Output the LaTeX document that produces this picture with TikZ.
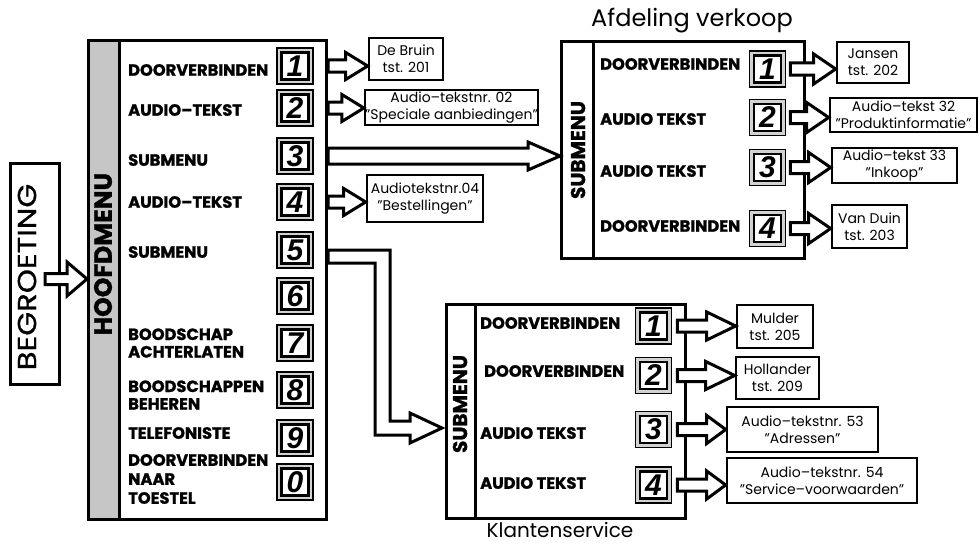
\documentclass[tikz,border=0pt]{standalone}
\usepackage{fontspec}
\setmainfont{Poppins}
\newfontfamily\heavyfont{Poppins}[BoldFeatures={FakeBold=1.2}]
\newfontfamily\medfont{Poppins}[UprightFeatures={FakeBold=0.8}]
\newfontfamily\keyfont{Liberation Sans}
\usetikzlibrary{calc}
\tikzset{
  frame/.style={draw, line width=3pt, inner sep=0pt},
  keybtn/.style={draw, line width=1.5pt, fill=gray!35, minimum size=36pt, inner sep=0pt,
    font=\keyfont\itshape\bfseries\fontsize{30}{30}\selectfont,
    path picture={\draw[line width=2.4pt, fill=white]
      ([shift={(4.5pt,4.5pt)}]path picture bounding box.south west) rectangle
      ([shift={(-4.5pt,-4.5pt)}]path picture bounding box.north east);}},
  lbl/.style={anchor=west, inner sep=0pt, align=left, font=\heavyfont\bfseries\fontsize{16.3}{17.5}\selectfont},
  info/.style={draw, line width=2.6pt, align=center, inner sep=0pt, font=\fontsize{14}{17}\selectfont},
  fatline/.style={draw, line width=3pt, fill=white, line join=miter},
  side/.style={rotate=90, inner sep=0pt, font=\heavyfont\bfseries\fontsize{20}{20}\selectfont},
  title/.style={inner sep=0pt, font=\fontsize{24}{24}\selectfont},
}
% #1 start point, #2 tip point (x used), #3 head length, #4 shaft half width, #5 head half width
\newcommand\fatarrow[5]{%
  \path[fatline] let \p1=(#1), \p2=(#2) in
    (\x1,{\y1+#4}) -- ({\x2-#3},{\y1+#4}) -- ({\x2-#3},{\y1+#5}) -- (\x2,\y1)
    -- ({\x2-#3},{\y1-#5}) -- ({\x2-#3},{\y1-#4}) -- (\x1,{\y1-#4}) -- cycle;}
\begin{document}
\begin{tikzpicture}[x=1pt,y=-1pt]
\useasboundingbox[fill=white] (0,0) rectangle (979,543);

% ---------- BEGROETING ----------
\node[frame, minimum width=49pt, minimum height=221pt, anchor=north west] (beg) at (9,162) {};
\node[rotate=90, inner sep=0pt, font=\medfont\fontsize{26}{26}\selectfont] (begt) at (27,277) {\scalebox{1.18}[1]{BEGROETING}};

% ---------- HOOFDMENU ----------
\node[frame, minimum width=238pt, minimum height=479pt, anchor=north west] (main) at (87,39) {};
\node[frame, fill=gray!45, minimum width=31pt, minimum height=479pt, anchor=north west] (mstrip) at (87,39) {};
\node[rotate=90, inner sep=0pt, font=\heavyfont\bfseries\fontsize{25}{25}\selectfont] (mtitle) at (103,254) {HOOFDMENU};

\coordinate (bs) at (45,279);
\fatarrow{bs}{main.west}{20pt}{5.5pt}{17pt}

\node[keybtn] (m1) at (295,66) {1};
\node[keybtn] (m2) at (295,108) {2};
\node[keybtn] (m3) at (295,156) {3};
\node[keybtn] (m4) at (295,202) {4};
\node[keybtn] (m5) at (295,250) {5};
\node[keybtn] (m6) at (295,296) {6};
\node[keybtn] (m7) at (295,343) {7};
\node[keybtn] (m8) at (295,390) {8};
\node[keybtn] (m9) at (295,438) {9};
\node[keybtn] (m0) at (295,482) {0};

\node[lbl] (ml1) at (128,70) {DOORVERBINDEN};
\node[lbl] (ml2) at (128,110) {AUDIO–TEKST};
\node[lbl] (ml3) at (128,160) {SUBMENU};
\node[lbl] (ml4) at (128,202) {AUDIO–TEKST};
\node[lbl] (ml5) at (128,252) {SUBMENU};
\node[lbl] (ml7) at (128,343) {BOODSCHAP\\ACHTERLATEN};
\node[lbl] (ml8) at (128,395) {BOODSCHAPPEN\\BEHEREN};
\node[lbl] (ml9) at (128,433) {TELEFONISTE};
\node[lbl, font=\heavyfont\bfseries\fontsize{16.3}{19}\selectfont] (ml0) at (128,479) {DOORVERBINDEN\\NAAR\\TOESTEL};

\node[info, minimum width=74pt, minimum height=42pt] (db) at (406,59) {De Bruin\\tst. 201};
\node[info, minimum width=171pt, minimum height=35pt] (a02) at (451.5,107.5) {Audio–tekstnr. 02\\"Speciale aanbiedingen"};
\node[info, minimum width=116pt, minimum height=47pt] (a04) at (425,198.5) {Audiotekstnr.04\\"Bestellingen"};

% ---------- Afdeling verkoop ----------
\node[title] (vt) at (692,21) {Afdeling verkoop};
\node[frame, minimum width=243pt, minimum height=217pt, anchor=north west] (usub) at (560,40) {};
\node[frame, minimum width=32pt, minimum height=217pt, anchor=north west] (ustrip) at (560,40) {};
\node[side] (ust) at (578,150) {SUBMENU};

\node[keybtn] (u1) at (767.5,69) {1};
\node[keybtn] (u2) at (767.5,117.5) {2};
\node[keybtn] (u3) at (767.5,167.5) {3};
\node[keybtn] (u4) at (767.5,228.5) {4};

\node[lbl] (ul1) at (600,64) {DOORVERBINDEN};
\node[lbl] (ul2) at (600,119) {AUDIO TEKST};
\node[lbl] (ul3) at (600,171) {AUDIO TEKST};
\node[lbl] (ul4) at (600,226) {DOORVERBINDEN};

\node[info, minimum width=72pt, minimum height=41pt] (jansen) at (873,62.5) {Jansen\\tst. 202};
\node[info, minimum width=147pt, minimum height=34pt] (a32) at (903.5,115) {Audio–tekst 32\\"Produktinformatie"};
\node[info, minimum width=125pt, minimum height=35pt] (a33) at (894.5,165.5) {Audio–tekst 33\\"Inkoop"};
\node[info, minimum width=75pt, minimum height=43pt] (vd) at (869.5,226.5) {Van Duin\\tst. 203};

% ---------- Klantenservice ----------
\node[frame, minimum width=239pt, minimum height=214pt, anchor=north west] (lsub) at (445,303) {};
\node[frame, minimum width=29pt, minimum height=214pt, anchor=north west] (lstrip) at (445,303) {};
\node[side] (lst) at (460,404) {SUBMENU};
\node[inner sep=0pt, font=\fontsize{20}{20}\selectfont] (kt) at (560,529.5) {Klantenservice};

\node[keybtn] (l1) at (653.5,326) {1};
\node[keybtn] (l2) at (653.5,375.5) {2};
\node[keybtn] (l3) at (653.5,429.5) {3};
\node[keybtn] (l4) at (653.5,485) {4};

\node[lbl] (ll1) at (480,323) {DOORVERBINDEN};
\node[lbl] (ll2) at (484,371) {DOORVERBINDEN};
\node[lbl] (ll3) at (480,433) {AUDIO TEKST};
\node[lbl] (ll4) at (480,483) {AUDIO TEKST};

\node[info, minimum width=76pt, minimum height=43pt] (mul) at (775,326.5) {Mulder\\tst. 205};
\node[info, minimum width=83pt, minimum height=42pt] (hol) at (777.5,378) {Hollander\\tst. 209};
\node[info, minimum width=151pt, minimum height=45pt] (a53) at (802.5,429.5) {Audio–tekstnr. 53\\"Adressen"};
\node[info, minimum width=190pt, minimum height=45pt] (a54) at (822,480.5) {Audio–tekstnr. 54\\"Service–voorwaarden"};

% ---------- connectors ----------
\fatarrow{main.east |- m1}{db.west}{22pt}{6pt}{13.5pt}
\fatarrow{main.east |- m2}{a02.west}{22pt}{6pt}{13.5pt}
\fatarrow{main.east |- m3}{usub.west}{32pt}{8pt}{14pt}
\fatarrow{main.east |- m4}{a04.west}{22pt}{6pt}{13.5pt}

\coordinate (ltip) at (442,428);
\path[fatline] (main.east |- 0,250) -- (390,250) -- (390,421) -- (410,421) -- (410,413)
  -- (ltip) -- (410,443) -- (410,435) -- (375,435) -- (375,263) -- (main.east |- 0,263) -- cycle;

\fatarrow{[xshift=4pt]u1.east}{jansen.west}{22pt}{6pt}{15pt}
\fatarrow{[xshift=4pt]u2.east}{a32.west}{22pt}{6pt}{15pt}
\fatarrow{[xshift=4pt]u3.east}{a33.west}{22pt}{6pt}{15pt}
\fatarrow{[xshift=4pt]u4.east}{vd.west}{22pt}{6pt}{15pt}

\fatarrow{[xshift=5pt]l1.east}{mul.west}{29pt}{6pt}{14pt}
\fatarrow{[xshift=5pt]l2.east}{hol.west}{29pt}{6pt}{14pt}
\fatarrow{[xshift=5pt]l3.east}{a53.west}{19pt}{6pt}{14pt}
\fatarrow{[xshift=5pt]l4.east}{a54.west}{19pt}{6pt}{14pt}
\end{tikzpicture}
\end{document}
